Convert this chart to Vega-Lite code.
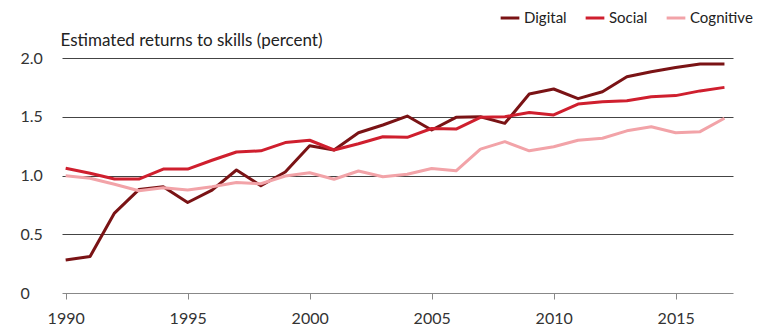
{
  "$schema": "https://vega.github.io/schema/vega-lite/v6.json",
  "width": 671,
  "height": 235,
  "autosize": {"type": "none"},
  "padding": {"left": 62, "top": 58, "right": 31, "bottom": 35},
  "background": "white",
  "config": {
    "font": "Lato",
    "view": {"stroke": null}
  },
  "data": {
    "values": [
      {"year": 1990, "skill": "Digital", "value": 0.28},
      {"year": 1991, "skill": "Digital", "value": 0.31},
      {"year": 1992, "skill": "Digital", "value": 0.68},
      {"year": 1993, "skill": "Digital", "value": 0.88},
      {"year": 1994, "skill": "Digital", "value": 0.905},
      {"year": 1995, "skill": "Digital", "value": 0.77},
      {"year": 1996, "skill": "Digital", "value": 0.876},
      {"year": 1997, "skill": "Digital", "value": 1.047},
      {"year": 1998, "skill": "Digital", "value": 0.913},
      {"year": 1999, "skill": "Digital", "value": 1.03},
      {"year": 2000, "skill": "Digital", "value": 1.254},
      {"year": 2001, "skill": "Digital", "value": 1.217},
      {"year": 2002, "skill": "Digital", "value": 1.364},
      {"year": 2003, "skill": "Digital", "value": 1.43},
      {"year": 2004, "skill": "Digital", "value": 1.506},
      {"year": 2005, "skill": "Digital", "value": 1.387},
      {"year": 2006, "skill": "Digital", "value": 1.495},
      {"year": 2007, "skill": "Digital", "value": 1.5},
      {"year": 2008, "skill": "Digital", "value": 1.444},
      {"year": 2009, "skill": "Digital", "value": 1.694},
      {"year": 2010, "skill": "Digital", "value": 1.736},
      {"year": 2011, "skill": "Digital", "value": 1.654},
      {"year": 2012, "skill": "Digital", "value": 1.713},
      {"year": 2013, "skill": "Digital", "value": 1.84},
      {"year": 2014, "skill": "Digital", "value": 1.883},
      {"year": 2015, "skill": "Digital", "value": 1.92},
      {"year": 2016, "skill": "Digital", "value": 1.949},
      {"year": 2017, "skill": "Digital", "value": 1.949},
      {"year": 1990, "skill": "Social", "value": 1.061},
      {"year": 1991, "skill": "Social", "value": 1.019},
      {"year": 1992, "skill": "Social", "value": 0.97},
      {"year": 1993, "skill": "Social", "value": 0.97},
      {"year": 1994, "skill": "Social", "value": 1.055},
      {"year": 1995, "skill": "Social", "value": 1.055},
      {"year": 1996, "skill": "Social", "value": 1.13},
      {"year": 1997, "skill": "Social", "value": 1.2},
      {"year": 1998, "skill": "Social", "value": 1.21},
      {"year": 1999, "skill": "Social", "value": 1.28},
      {"year": 2000, "skill": "Social", "value": 1.3},
      {"year": 2001, "skill": "Social", "value": 1.217},
      {"year": 2002, "skill": "Social", "value": 1.27},
      {"year": 2003, "skill": "Social", "value": 1.33},
      {"year": 2004, "skill": "Social", "value": 1.325},
      {"year": 2005, "skill": "Social", "value": 1.4},
      {"year": 2006, "skill": "Social", "value": 1.395},
      {"year": 2007, "skill": "Social", "value": 1.495},
      {"year": 2008, "skill": "Social", "value": 1.5},
      {"year": 2009, "skill": "Social", "value": 1.537},
      {"year": 2010, "skill": "Social", "value": 1.515},
      {"year": 2011, "skill": "Social", "value": 1.608},
      {"year": 2012, "skill": "Social", "value": 1.628},
      {"year": 2013, "skill": "Social", "value": 1.637},
      {"year": 2014, "skill": "Social", "value": 1.67},
      {"year": 2015, "skill": "Social", "value": 1.68},
      {"year": 2016, "skill": "Social", "value": 1.72},
      {"year": 2017, "skill": "Social", "value": 1.75},
      {"year": 1990, "skill": "Cognitive", "value": 0.998},
      {"year": 1991, "skill": "Cognitive", "value": 0.976},
      {"year": 1992, "skill": "Cognitive", "value": 0.925},
      {"year": 1993, "skill": "Cognitive", "value": 0.87},
      {"year": 1994, "skill": "Cognitive", "value": 0.896},
      {"year": 1995, "skill": "Cognitive", "value": 0.877},
      {"year": 1996, "skill": "Cognitive", "value": 0.905},
      {"year": 1997, "skill": "Cognitive", "value": 0.94},
      {"year": 1998, "skill": "Cognitive", "value": 0.93},
      {"year": 1999, "skill": "Cognitive", "value": 0.996},
      {"year": 2000, "skill": "Cognitive", "value": 1.024},
      {"year": 2001, "skill": "Cognitive", "value": 0.968},
      {"year": 2002, "skill": "Cognitive", "value": 1.038},
      {"year": 2003, "skill": "Cognitive", "value": 0.99},
      {"year": 2004, "skill": "Cognitive", "value": 1.01},
      {"year": 2005, "skill": "Cognitive", "value": 1.06},
      {"year": 2006, "skill": "Cognitive", "value": 1.04},
      {"year": 2007, "skill": "Cognitive", "value": 1.225},
      {"year": 2008, "skill": "Cognitive", "value": 1.288},
      {"year": 2009, "skill": "Cognitive", "value": 1.21},
      {"year": 2010, "skill": "Cognitive", "value": 1.245},
      {"year": 2011, "skill": "Cognitive", "value": 1.3},
      {"year": 2012, "skill": "Cognitive", "value": 1.317},
      {"year": 2013, "skill": "Cognitive", "value": 1.38},
      {"year": 2014, "skill": "Cognitive", "value": 1.415},
      {"year": 2015, "skill": "Cognitive", "value": 1.364},
      {"year": 2016, "skill": "Cognitive", "value": 1.373},
      {"year": 2017, "skill": "Cognitive", "value": 1.487}
    ]
  },
  "mark": {"type": "line", "strokeWidth": 3, "strokeJoin": "round"},
  "encoding": {
    "x": {
      "field": "year",
      "type": "quantitative",
      "scale": {"domain": [1989.85, 2017.35], "nice": false, "zero": false},
      "axis": {
        "title": null,
        "values": [1990, 1995, 2000, 2005, 2010, 2015],
        "format": "d",
        "grid": false,
        "domainColor": "#888",
        "domainWidth": 1,
        "tickColor": "#888",
        "tickSize": 6,
        "labelPadding": 11,
        "labelFontSize": 16,
        "labelColor": "#333",
        "labelFont": "Lato"
      }
    },
    "y": {
      "field": "value",
      "type": "quantitative",
      "scale": {"domain": [0, 2], "nice": false},
      "axis": {
        "title": "Estimated returns to skills (percent)",
        "titleAngle": 0,
        "titleAlign": "left",
        "titleBaseline": "bottom",
        "titleX": -2,
        "titleY": -9,
        "titleFontSize": 17,
        "titleFontWeight": "normal",
        "titleColor": "#222",
        "titleFont": "Lato",
        "values": [0, 0.5, 1, 1.5, 2],
        "labelExpr": "datum.value == 0 ? '0' : format(datum.value, '.1f')",
        "domain": false,
        "ticks": false,
        "grid": true,
        "gridColor": {"condition": {"test": "datum.value === 0", "value": "#ffffff00"}, "value": "#444"},
        "gridWidth": 1,
        "labelAlign": "left",
        "labelPadding": 42,
        "labelFontSize": 16,
        "labelColor": "#333",
        "labelFont": "Lato"
      }
    },
    "color": {
      "field": "skill",
      "type": "nominal",
      "scale": {
        "domain": ["Digital", "Social", "Cognitive"],
        "range": ["#7a1315", "#cf1f2e", "#f2a3a8"]
      },
      "legend": {
        "title": null,
        "orient": "none",
        "direction": "horizontal",
        "legendX": 437,
        "legendY": -51,
        "symbolType": "stroke",
        "symbolStrokeWidth": 3,
        "symbolSize": 350,
        "labelFontSize": 15,
        "labelColor": "#222",
        "labelFont": "Lato",
        "labelOffset": 3,
        "columnPadding": 12
      }
    }
  }
}
